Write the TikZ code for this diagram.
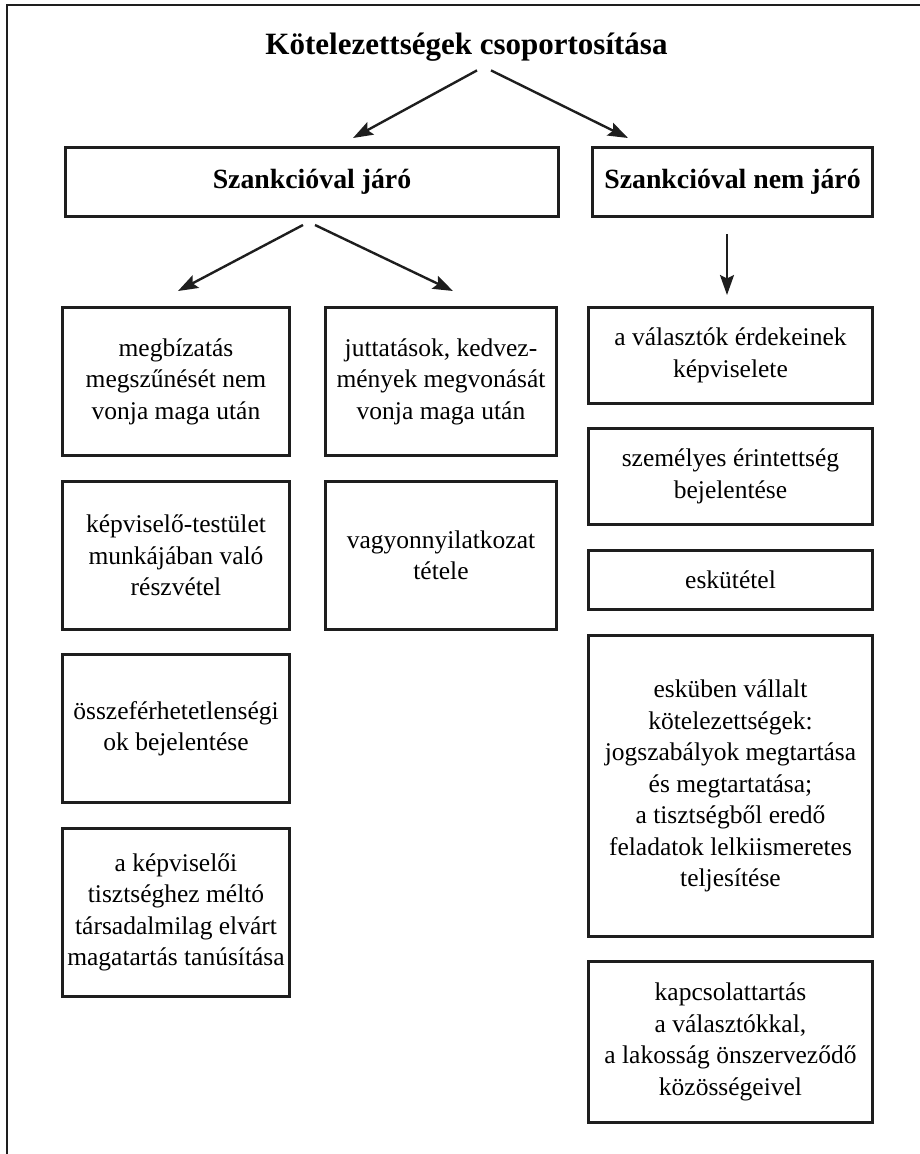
\documentclass[tikz,border=0pt]{standalone}
\usepackage{fontspec}
\setmainfont{Liberation Serif}
\usetikzlibrary{arrows.meta,calc}
\definecolor{ink}{HTML}{1E1E1E}
\begin{document}
\begin{tikzpicture}[x=1pt,y=-1pt,
  box/.style={draw=ink, line width=3pt, align=center, inner sep=0pt,
    font=\fontsize{25.5}{31.5}\selectfont},
  headbox/.style={box, font=\fontsize{27.8}{33}\selectfont\bfseries},
  arr/.style={draw=ink, line width=2.4pt,
    -{Stealth[length=20pt,width=14pt,inset=3.5pt]}},
  frameline/.style={draw=ink, line width=2.8pt}]
\useasboundingbox (0,0) rectangle (920,1154);

% page frame: top and left rules only
\draw[frameline] (7,1154) -- (7,5) -- (920,5);

% title
\node[inner sep=0pt, font=\fontsize{31}{36}\selectfont\bfseries]
  (title) at (466.5,47) {Kötelezettségek csoportosítása};

% the two main groups
\node[headbox, minimum width=493pt, minimum height=69pt] (szj) at (312,182) {Szankcióval járó};
\node[headbox, minimum width=280pt, minimum height=69pt] (sznj) at (732.5,182) {Szankcióval nem járó};

% sanctioned duties, first column
\node[box, minimum width=227pt, minimum height=148pt] (a1) at (176,381.5)
  {megbízatás\\megszűnését nem\\vonja maga után};
\node[box, minimum width=227pt, minimum height=148pt] (a2) at (176,555.5)
  {képviselő-testület\\munkájában való\\részvétel};
\node[box, minimum width=227pt, minimum height=148pt] (a3) at (176,728.5)
  {összeférhetetlenségi\\ok bejelentése};
\node[box, minimum width=227pt, minimum height=168pt] (a4) at (176,912.5)
  {a képviselői\\tisztséghez méltó\\társadalmilag elvárt\\magatartás tanúsítása};

% sanctioned duties, second column
\node[box, minimum width=231pt, minimum height=148pt] (b1) at (441,381.5)
  {juttatások, kedvez-\\mények megvonását\\vonja maga után};
\node[box, minimum width=231pt, minimum height=148pt] (b2) at (441,555.5)
  {vagyonnyilatkozat\\tétele};

% duties without sanction
\node[box, minimum width=284pt, minimum height=96pt] (r1) at (730.5,355.5)
  {a választók érdekeinek\\képviselete};
\node[box, minimum width=284pt, minimum height=96pt] (r2) at (730.5,476.5)
  {személyes érintettség\\bejelentése};
\node[box, minimum width=284pt, minimum height=59pt] (r3) at (730.5,580)
  {eskütétel};
\node[box, minimum width=284pt, minimum height=301pt] (r4) at (730.5,786)
  {esküben vállalt\\kötelezettségek:\\jogszabályok megtartása\\és megtartatása;\\a tisztségből eredő\\feladatok lelkiismeretes\\teljesítése};
\node[box, minimum width=284pt, minimum height=161pt] (r5) at (730.5,1042)
  {kapcsolattartás\\a választókkal,\\a lakosság önszerveződő\\közösségeivel};

% connectors
\draw[arr] ([xshift=10.5pt,yshift=-9pt]title.south) -- ([xshift=41pt,yshift=8pt]szj.north);
\draw[arr] ([xshift=24.5pt,yshift=-9pt]title.south) -- ([xshift=-104.5pt,yshift=8pt]sznj.north);
\draw[arr] ([xshift=-9pt,yshift=-7pt]szj.south) -- ([xshift=2pt,yshift=15pt]a1.north);
\draw[arr] ([xshift=3pt,yshift=-7pt]szj.south) -- ([xshift=12pt,yshift=15pt]b1.north);
\draw[arr] ([xshift=-5.5pt,yshift=-16pt]sznj.south) -- ([xshift=-3.5pt,yshift=11pt]r1.north);
\end{tikzpicture}
\end{document}
